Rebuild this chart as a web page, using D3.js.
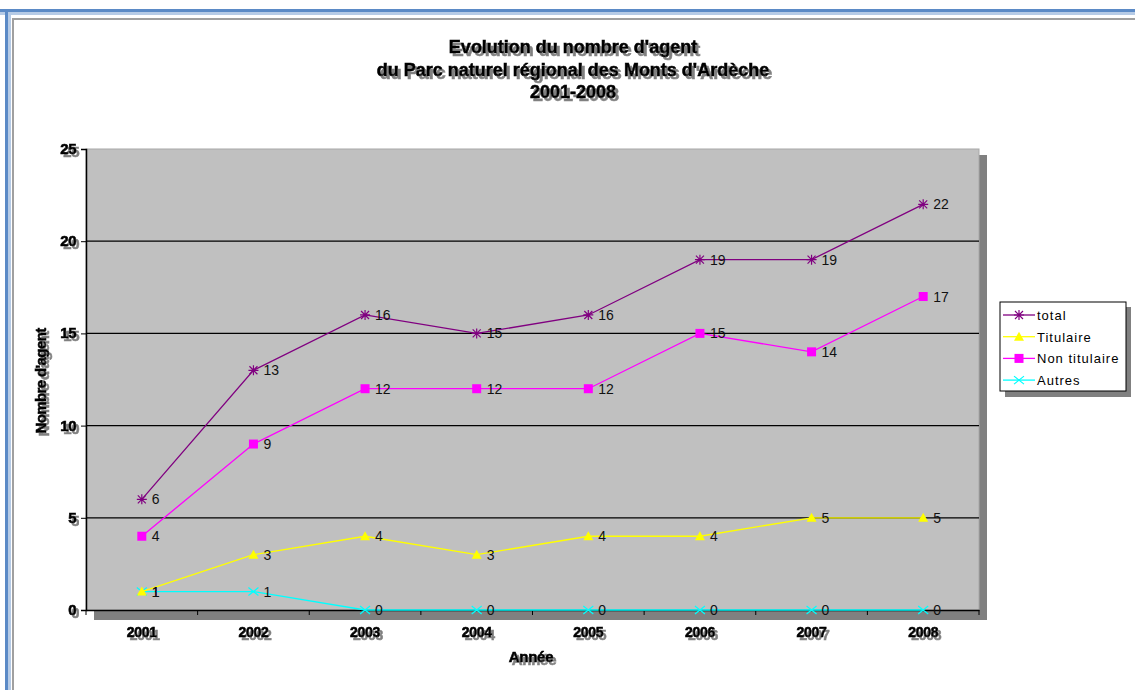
<!DOCTYPE html>
<html><head><meta charset="utf-8">
<script src="https://cdn.jsdelivr.net/npm/d3@7"></script>
<style>body{margin:0;background:#fff;}svg{display:block;font-family:"Liberation Sans",Arial,sans-serif;}</style>
</head><body>
<svg id="c" width="1135" height="690"></svg>
<script>
const years = ["2001","2002","2003","2004","2005","2006","2007","2008"];
const total = [6,13,16,15,16,19,19,22];
const titulaire = [1,3,4,3,4,4,5,5];
const nonTitulaire = [4,9,12,12,12,15,14,17];
const autres = [1,1,0,0,0,0,0,0];
const yTicks = [0,5,10,15,20,25];
const titleLines = ["Evolution du nombre d'agent","du Parc naturel régional des Monts d'Ardèche","2001-2008"];

const series = [
  {name:"total", values:total, color:"#800080", marker:"star"},
  {name:"Titulaire", values:titulaire, color:"#FFFF00", marker:"tri"},
  {name:"Non titulaire", values:nonTitulaire, color:"#FF00FF", marker:"square"},
  {name:"Autres", values:autres, color:"#00FFFF", marker:"x"}
];

const svg = d3.select("#c");
const defs = svg.append("defs");
const f = defs.append("filter").attr("id","sh").attr("x","-20%").attr("y","-50%").attr("width","150%").attr("height","250%");
f.append("feDropShadow").attr("dx",3).attr("dy",3).attr("stdDeviation",0.7).attr("flood-color","#808080").attr("flood-opacity",1);

// window frame
svg.append("rect").attr("x",0).attr("y",9).attr("width",1135).attr("height",3).attr("fill","#5b8ac6");
svg.append("rect").attr("x",0).attr("y",12).attr("width",1135).attr("height",3).attr("fill","#b6cbe6");
svg.append("rect").attr("x",5).attr("y",9).attr("width",3).attr("height",681).attr("fill","#5b8ac6");
svg.append("rect").attr("x",8).attr("y",12).attr("width",3).attr("height",678).attr("fill","#b6cbe6");
svg.append("rect").attr("x",12).attr("y",18).attr("width",1123).attr("height",2).attr("fill","#a0a0a0");
svg.append("rect").attr("x",12).attr("y",18).attr("width",2).attr("height",672).attr("fill","#a0a0a0");

const L=86, R=979, T=149, B=610;
const x = d3.scaleBand().domain(years).range([L,R]);
const y = d3.scaleLinear().domain([0,25]).range([B,T]);

function shadowText(g, tx, ty, txt, opts){
  const gg = g.append("g").attr("filter","url(#sh)");
  gg.append("text").attr("x",tx).attr("y",ty).text(txt)
    .attr("font-size",opts.size).attr("font-weight","bold").attr("text-anchor",opts.anchor||"middle")
    .attr("fill","#000").attr("stroke","#000").attr("stroke-width",0.6)
    .attr("transform",opts.rotate?`rotate(-90,${tx},${ty})`:null)
    .style("letter-spacing", opts.ls||"0px");
}

// plot shadow
svg.append("rect").attr("x",L+8).attr("y",T+6).attr("width",R-L).attr("height",B-T+4).attr("fill","#808080");
svg.append("rect").attr("x",L).attr("y",T).attr("width",R-L).attr("height",B-T).attr("fill","#C0C0C0").attr("stroke","#a8a8a8");

// gridlines
svg.append("g").selectAll("line").data(yTicks.filter(d=>d>0&&d<25)).join("line")
  .attr("x1",L).attr("x2",R).attr("y1",d=>y(d)).attr("y2",d=>y(d)).attr("stroke","#000").attr("stroke-width",1.2);

// axes
const ya = svg.append("g").attr("transform",`translate(${L},0)`).call(d3.axisLeft(y).tickValues(yTicks).tickSize(5).tickFormat(""));
ya.select(".domain").attr("stroke","#000").attr("stroke-width",1.5);
const xa = svg.append("g").attr("transform",`translate(0,${B})`)
  .call(d3.axisBottom(x).tickSize(0).tickFormat(""));
xa.select(".domain").attr("stroke","#000").attr("stroke-width",1.5);
svg.append("g").selectAll("line").data(years.concat(["end"])).join("line")
  .attr("x1",(d,i)=>L+i*x.bandwidth()).attr("x2",(d,i)=>L+i*x.bandwidth())
  .attr("y1",B).attr("y2",B+5).attr("stroke","#000");

const labG = svg.append("g");
yTicks.forEach(v=>shadowText(labG, 76, y(v)+5, String(v), {size:15, anchor:"end", ls:"-0.5px"}));
years.forEach(v=>shadowText(labG, x(v)+x.bandwidth()/2, 637, v, {size:14, ls:"-0.3px"}));
shadowText(labG, 531, 662, "Année", {size:15, ls:"-0.3px"});
shadowText(labG, 46, 381, "Nombre d'agent", {size:15, rotate:true, ls:"-0.6px"});
titleLines.forEach((t,i)=>shadowText(labG, 573, 53+i*22.5, t, {size:18, ls:"0px"}));

function drawMarker(g, m, cx, cy, color){
  if(m==="star"){
    g.append("path").attr("d",`M${cx-4},${cy-4}L${cx+4},${cy+4}M${cx-4},${cy+4}L${cx+4},${cy-4}M${cx},${cy-5}L${cx},${cy+5}M${cx-5},${cy}L${cx+5},${cy}`).attr("stroke",color).attr("stroke-width",1.2);
  } else if(m==="tri"){
    g.append("path").attr("d",`M${cx},${cy-5}L${cx+5},${cy+4}L${cx-5},${cy+4}Z`).attr("fill",color);
  } else if(m==="square"){
    g.append("rect").attr("x",cx-4.5).attr("y",cy-4.5).attr("width",9).attr("height",9).attr("fill",color);
  } else {
    g.append("path").attr("d",`M${cx-5},${cy-4}L${cx+5},${cy+4}M${cx-5},${cy+4}L${cx+5},${cy-4}`).attr("stroke",color).attr("stroke-width",1.2);
  }
}

const cx = d=>x(d)+x.bandwidth()/2;
const line = d3.line().x((d,i)=>cx(years[i])).y(d=>y(d));
[...series].reverse().forEach(s=>{
  const g = svg.append("g");
  g.append("path").datum(s.values).attr("d",line).attr("fill","none").attr("stroke",s.color).attr("stroke-width",1.3);
  s.values.forEach((v,i)=>drawMarker(g, s.marker, cx(years[i]), y(v), s.color));
});
series.forEach(s=>{
  svg.append("g").selectAll("text").data(s.values).join("text")
    .attr("x",(d,i)=>cx(years[i])+10).attr("y",d=>y(d)+5)
    .attr("font-size",14).attr("fill","#111").text(d=>d);
});

// legend
const lg = svg.append("g");
lg.append("rect").attr("x",1005).attr("y",307).attr("width",126).attr("height",90).attr("fill","#808080");
lg.append("rect").attr("x",1000).attr("y",302).attr("width",126).attr("height",89).attr("fill","#fff").attr("stroke","#000");
series.forEach((s,i)=>{
  const ly = 315+i*21.7;
  lg.append("line").attr("x1",1003).attr("x2",1035).attr("y1",ly).attr("y2",ly).attr("stroke",s.color).attr("stroke-width",1.3);
  drawMarker(lg, s.marker, 1019, ly, s.color);
  lg.append("text").attr("x",1037).attr("y",ly+5).attr("font-size",13).attr("fill","#000").style("letter-spacing","1px").text(s.name);
});
</script>
</body></html>
